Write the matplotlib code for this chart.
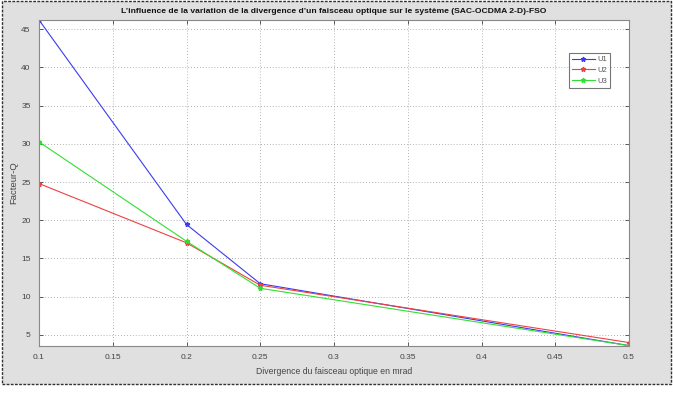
import matplotlib
matplotlib.use("Agg")
import matplotlib.pyplot as plt
from matplotlib.patches import Rectangle

plt.rcParams['font.family'] = ['Liberation Sans', 'DejaVu Sans']

divergence = [0.1, 0.2, 0.25, 0.5]
u1 = [46.2, 19.45, 11.7, 3.6]
u2 = [24.8, 17.05, 11.5, 4.0]
u3 = [30.25, 17.25, 11.1, 3.6]
series_names = ['U1', 'U2', 'U3']
x_ticks = [0.1, 0.15, 0.2, 0.25, 0.3, 0.35, 0.4, 0.45, 0.5]
x_tick_labels = ['0.1', '0.15', '0.2', '0.25', '0.3', '0.35', '0.4', '0.45', '0.5']
y_ticks = [5, 10, 15, 20, 25, 30, 35, 40, 45]

W, H = 673, 401
fig = plt.figure(figsize=(W / 100, H / 100), dpi=100, facecolor='white')

# gray dithered-looking frame with dashed border
bg = Rectangle((1.5 / W, 1 - 384 / H), 669 / W, 383 / H, transform=fig.transFigure,
               facecolor='#e0e0e0', edgecolor='#333333', linestyle=(0, (2, 1)),
               linewidth=1.0, zorder=-10)
fig.patches.append(bg)

ax = fig.add_axes([39 / W, 1 - 346 / H, 590 / W, 326 / H])
ax.set_facecolor('white')

colors = ['#3b3bf0', '#f04040', '#30e030']
for vals, name, c in zip([u1, u2, u3], series_names, colors):
    ax.plot(divergence, vals, color=c, linewidth=0.8, marker='*', markersize=3.5,
            label=name)

ax.set_xlim(0.1, 0.5)
ax.set_ylim(3.55, 46.2)
ax.set_xticks(x_ticks)
ax.set_xticklabels(x_tick_labels)
ax.set_yticks(y_ticks)
ax.grid(True, linestyle=(0, (1, 2.5)), color='#999999', linewidth=0.6)
ax.tick_params(direction='in', top=True, right=True, length=3, width=0.6,
               labelsize=6, colors='#444444', pad=6)
for s in ax.spines.values():
    s.set_color('#888888')
    s.set_linewidth(0.8)

ax.set_title("L’influence de la variation de la divergence d’un faisceau optique sur le système (SAC-OCDMA 2-D)-FSO",
             fontsize=6.1, fontweight='bold', pad=5, color='#111111')
ax.set_xlabel('Divergence du faisceau optique en mrad', fontsize=6.2, color='#444444', labelpad=4)
ax.set_ylabel('Facteur-Q', fontsize=6.8, color='#444444', labelpad=2)

leg = ax.legend(loc='upper right', bbox_to_anchor=(0.968, 0.898), fontsize=5.5,
                frameon=True, fancybox=False, edgecolor='#555555',
                handlelength=3.0, borderpad=0.35, labelspacing=0.45, handletextpad=0.4,
                borderaxespad=0.0)
leg.get_frame().set_linewidth(0.8)
for t in leg.get_texts():
    t.set_color('#555555')

fig.savefig('out.png', dpi=100, facecolor='white')
